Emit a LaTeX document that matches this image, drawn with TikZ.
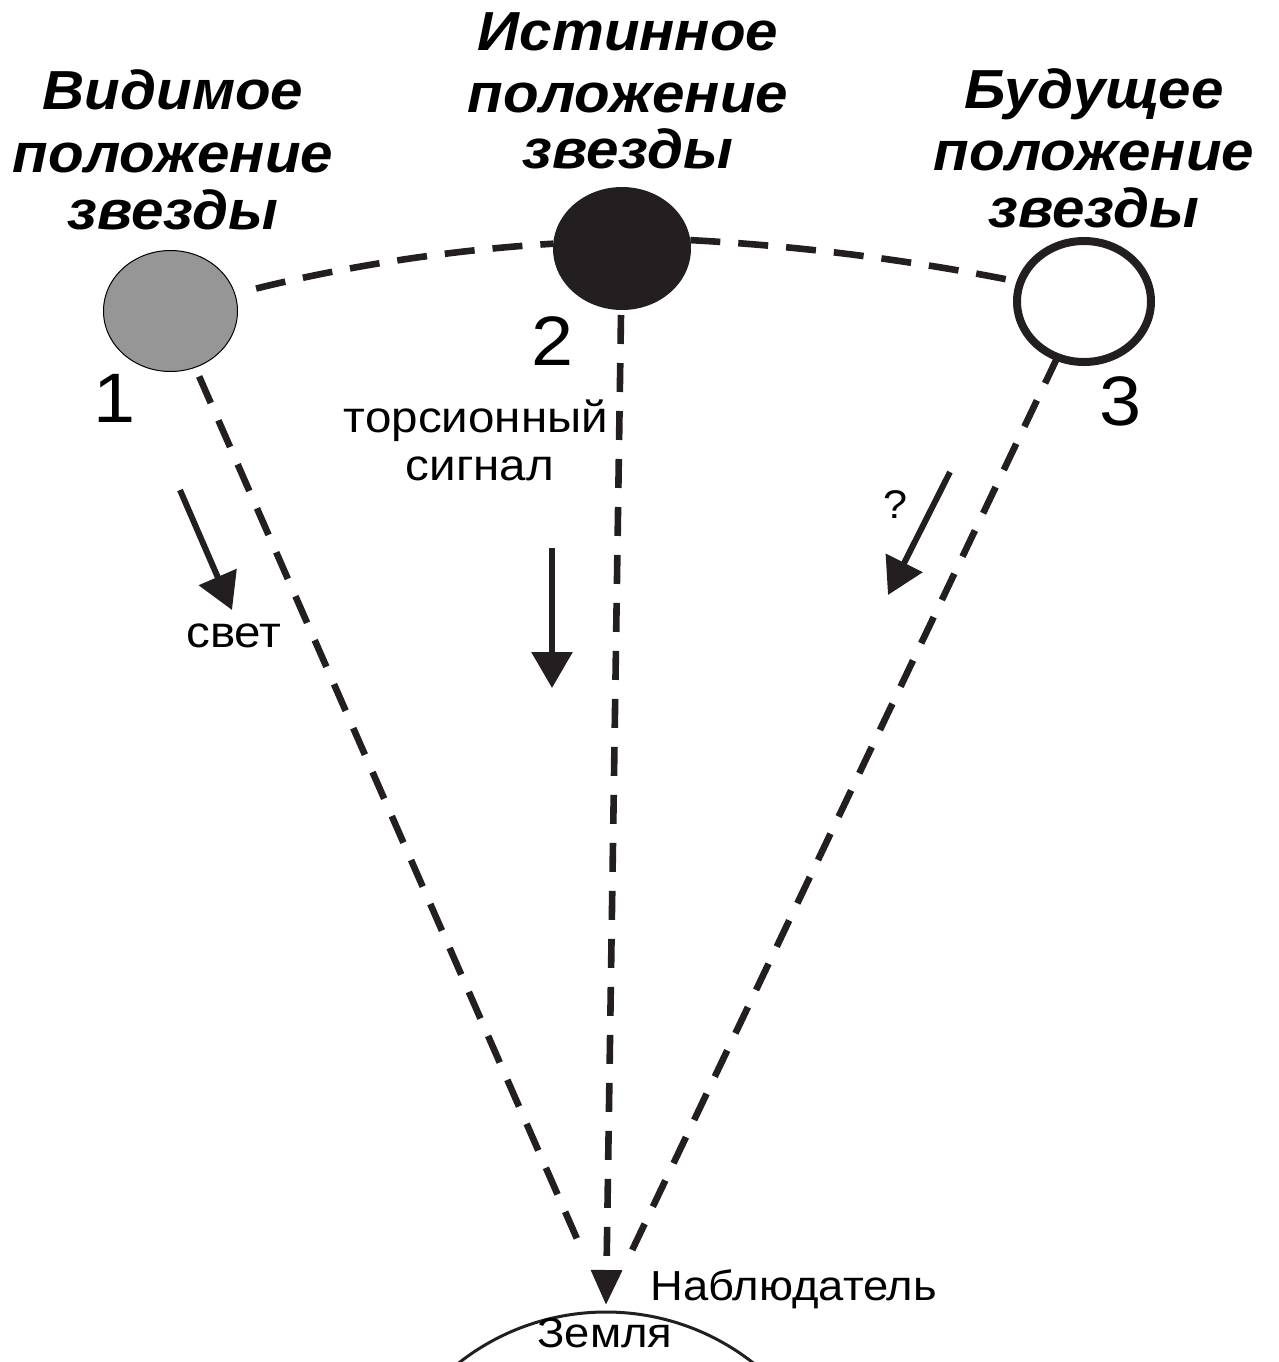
\documentclass[tikz,border=0pt]{standalone}
\usepackage{fontspec}
\setmainfont[FakeStretch=1.08]{Liberation Sans}
\newfontfamily\titlefont[FakeStretch=1.06]{Liberation Sans}
\usetikzlibrary{arrows.meta,shapes.geometric}
\definecolor{ink}{RGB}{35,31,32}
\definecolor{stargray}{RGB}{150,150,150}
\begin{document}
\begin{tikzpicture}[x=0.5pt,y=-0.5pt,
  star/.style={ellipse,inner sep=0pt,outer sep=0pt},
  ray/.style={draw=ink,line width=3.3pt,dash pattern=on 14.5pt off 9.5pt},
  orbit/.style={draw=ink,line width=3.3pt,dash pattern=on 15pt off 9pt},
  flow/.style={draw=ink,line width=3pt,-{Triangle[length=18pt,width=20pt]}},
  ttl/.style={font=\titlefont\bfseries\itshape\fontsize{27.5pt}{32pt}\selectfont,anchor=base,inner sep=0pt},
  num/.style={font=\fontsize{35pt}{40pt}\selectfont,anchor=base,inner sep=0pt},
  lbl/.style={font=\fontsize{22pt}{26pt}\selectfont,anchor=base,inner sep=0pt}]
\useasboundingbox (0,0) rectangle (1279,1362);
\clip (0,0) rectangle (1279,1362);

% stars
\node[star,minimum width=67pt,minimum height=60.5pt,draw=black,line width=0.5pt,fill=stargray] (s1) at (170.5,311) {};
\node[star,minimum width=69pt,minimum height=61.5pt,fill=ink] (s2) at (622,248.5) {};
\node[star,minimum width=67pt,minimum height=60.5pt,draw=ink,line width=4pt,fill=white] (s3) at (1084,301.5) {};

% orbit arcs
\draw[orbit,shorten <=11pt] (s1.15) .. controls (352,265) and (451,250) .. (s2.176);
\draw[orbit] (s2.7) .. controls (801,246) and (911,260) .. (s3.163);

% observer and earth
\coordinate (obs) at (606,1305);
\coordinate (e1) at (455,1366);
\coordinate (e2) at (757,1366);
\draw[ink,line width=1.5pt] (e1) .. controls (542.6,1294) and (669.4,1294) .. (e2);

\draw[ray,shorten <=5pt,shorten >=28pt] (s1) -- (obs);
\draw[ray,shorten <=2.5pt,-{Triangle[length=17.5pt,width=15pt]}] (s2) -- (obs);
\draw[ray,shorten >=27.5pt] (s3) -- (obs);

% small arrows
\coordinate (a1s) at (180,490); \coordinate (a1e) at (232,610);
\coordinate (a2s) at (552,548); \coordinate (a2e) at (552,688);
\coordinate (a3s) at (950,472); \coordinate (a3e) at (888,595);
\draw[flow] (a1s) -- (a1e);
\draw[flow] (a2s) -- (a2e);
\draw[flow] (a3s) -- (a3e);

% titles
\node[ttl] (t1a) at (173,109) {Видимое};
\node[ttl] (t1b) at (173,172) {положение};
\node[ttl] (t1c) at (173,229) {звезды};
\node[ttl] (t2a) at (628,50) {Истинное};
\node[ttl] (t2b) at (628,112) {положение};
\node[ttl] (t2c) at (628,168) {звезды};
\node[ttl] (t3a) at (1094,108) {Будущее};
\node[ttl] (t3b) at (1094,170) {положение};
\node[ttl] (t3c) at (1094,227) {звезды};

% numbers
\node[num] (n1) at (115,422) {1};
\node[num] (n2) at (553,365) {2};
\node[num] (n3) at (1121,425) {3};

% labels
\node[lbl] (svet) at (234,647) {свет};
\node[lbl] (tors1) at (476,432) {торсионный};
\node[lbl] (tors2) at (480,480) {сигнал};
\node[lbl,font=\fontsize{20pt}{24pt}\selectfont] (q) at (896,518) {?};
\node[lbl,font=\fontsize{21pt}{24pt}\selectfont] (nabl) at (794,1300) {Наблюдатель};
\node[lbl,font=\fontsize{21pt}{24pt}\selectfont] (zeml) at (605,1347) {Земля};
\end{tikzpicture}
\end{document}
